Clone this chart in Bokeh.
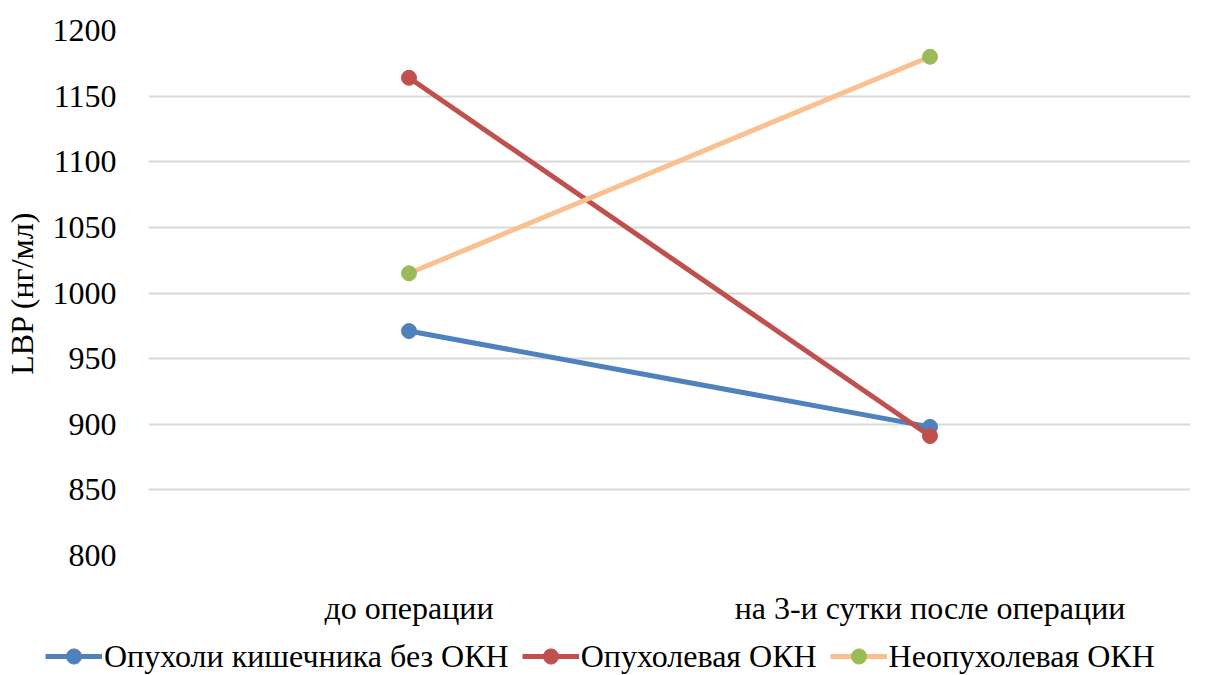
from bokeh.plotting import figure
from bokeh.layouts import column
from bokeh.models import Legend, LegendItem, FixedTicker, Range1d, FactorRange
from bokeh.embed import file_html
from bokeh.resources import INLINE

categories = ["до операции", "на 3-и сутки после операции"]
series_names = ["Опухоли кишечника без ОКН", "Опухолевая ОКН", "Неопухолевая ОКН"]
tumor_no_okn = [971, 898]
tumor_okn = [1164, 891]
non_tumor_okn = [1015, 1180]
y_ticks = [800, 850, 900, 950, 1000, 1050, 1100, 1150, 1200]
series = [tumor_no_okn, tumor_okn, non_tumor_okn]

line_colors = ["#4F81BD", "#C0504D", "#FAC090"]
marker_colors = ["#4F81BD", "#C0504D", "#9BBB59"]
FONT = "Liberation Serif"

p = figure(width=1214, height=628, x_range=FactorRange(*categories, range_padding=0),
           y_range=Range1d(800, 1200), output_backend="svg", toolbar_location=None,
           min_border_left=141, min_border_right=24, min_border_top=30, min_border_bottom=69)
p.frame_align = False
p.outline_line_color = None
p.background_fill_color = "white"
p.border_fill_color = "white"

for vals, lc, mc in zip(series, line_colors, marker_colors):
    p.line(categories, vals, line_color=lc, line_width=5)
    p.scatter(categories, vals, size=15, fill_color=mc, line_color=mc)

p.yaxis.ticker = FixedTicker(ticks=y_ticks)
p.yaxis.axis_line_color = None
p.yaxis.major_tick_line_color = None
p.yaxis.minor_tick_line_color = None
p.yaxis.major_label_text_font = FONT
p.yaxis.major_label_text_font_size = "32px"
p.yaxis.major_label_text_color = "#000000"
p.yaxis.major_label_standoff = 26
p.yaxis.axis_label = "LBP (нг/мл)"
p.yaxis.axis_label_text_font = FONT
p.yaxis.axis_label_text_font_size = "32px"
p.yaxis.axis_label_text_font_style = "normal"
p.yaxis.axis_label_text_color = "#000000"
p.yaxis.axis_label_standoff = 10

p.xaxis.axis_line_color = None
p.xaxis.major_tick_line_color = None
p.xaxis.minor_tick_line_color = None
p.xaxis.major_label_text_font = FONT
p.xaxis.major_label_text_font_size = "32px"
p.xaxis.major_label_text_color = "#000000"
p.xaxis.major_label_standoff = 28

p.xgrid.grid_line_color = None
p.ygrid.grid_line_color = "#D9D9D9"
p.ygrid.grid_line_width = 2

# legend strip below the chart (series drawn out of view, only the legend shows)
lg = figure(width=1214, height=47, x_range=FactorRange(*categories), y_range=Range1d(0, 1),
            output_backend="svg", toolbar_location=None, min_border=0,
            x_axis_type=None, y_axis_type=None)
lg.frame_align = False
lg.grid.visible = False
lg.outline_line_color = None
lg.background_fill_color = "white"
lg.border_fill_color = "white"

items = []
for name, vals, lc, mc in zip(series_names, series, line_colors, marker_colors):
    r1 = lg.line(categories, vals, line_color=lc, line_width=5)
    r2 = lg.scatter(categories, vals, size=15, fill_color=mc, line_color=mc)
    items.append(LegendItem(label=name, renderers=[r1, r2]))

legend = Legend(items=items, orientation="horizontal", location=(45, 0),
                label_text_font=FONT, label_text_font_size="32px", label_text_color="#000000",
                glyph_width=57, glyph_height=38, label_standoff=2, spacing=13,
                border_line_color=None, background_fill_alpha=0, padding=0, margin=0)
lg.add_layout(legend, "center")

open("out.html", "w").write(file_html(column(p, lg, spacing=0), INLINE))
